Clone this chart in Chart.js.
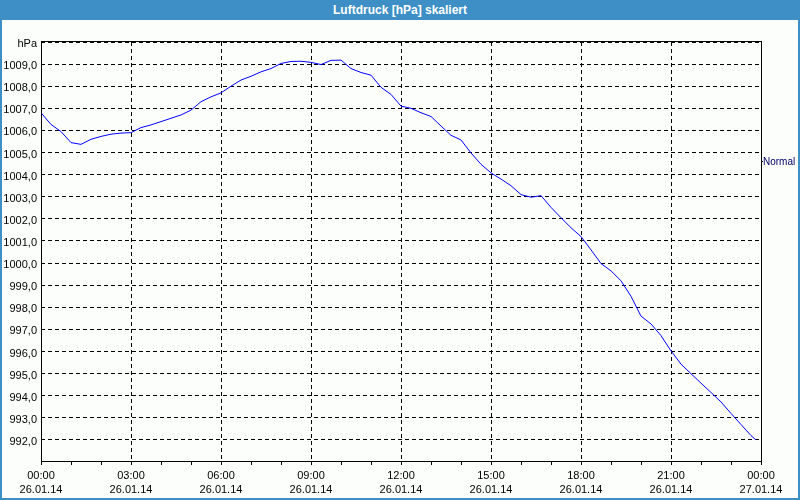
<!DOCTYPE html>
<html>
<head>
<meta charset="utf-8">
<script src="https://cdn.jsdelivr.net/npm/chart.js@4.4.1/dist/chart.umd.min.js"></script>
<style>
    html, body { margin: 0; padding: 0; background: #fff; }
    #frame {
        width: 800px; height: 500px; box-sizing: border-box;
        border: 2px solid #3d8fc6; border-top: none;
        background: #fcfefc;
    }
    #title {
        height: 20px; margin: 0 -2px; background: #3d8fc6;
        color: #fff; font: bold 12px "Liberation Sans", Arial, sans-serif;
        text-align: center; line-height: 20px;
    }
    canvas { display: block; }
</style>
</head>
<body>
<div id="frame">
    <div id="title">Luftdruck [hPa] skaliert</div>
    <canvas id="chart" width="796" height="478"></canvas>
</div>
<script>
// sample times in minutes after 26.01.14 00:00
const minutes = [
    0, 20, 40, 60, 80, 100, 120, 140, 160, 180, 200, 220,
    240, 260, 280, 300, 320, 340, 360, 380, 400, 420, 440, 460,
    480, 500, 520, 540, 560, 580, 600, 620, 640, 660, 680, 700,
    720, 740, 760, 780, 800, 820, 840, 860, 880, 900, 920, 940,
    960, 980, 1000, 1020, 1040, 1060, 1080, 1100, 1120, 1140, 1160, 1180,
    1200, 1220, 1240, 1260, 1280, 1300, 1320, 1340, 1360, 1380, 1400, 1420,
    1430
];
// air pressure in hPa
const pressure = [
    1006.8, 1006.27, 1005.95, 1005.45, 1005.37, 1005.6, 1005.73, 1005.83, 1005.88, 1005.9, 1006.13, 1006.25,
    1006.4, 1006.55, 1006.7, 1006.92, 1007.3, 1007.52, 1007.7, 1008.0, 1008.28, 1008.45, 1008.65, 1008.8,
    1009.03, 1009.12, 1009.13, 1009.08, 1008.98, 1009.17, 1009.18, 1008.8, 1008.62, 1008.5, 1007.95, 1007.63,
    1007.1, 1007.0, 1006.8, 1006.63, 1006.2, 1005.78, 1005.57, 1004.98, 1004.47, 1004.08, 1003.8, 1003.5,
    1003.1, 1002.98, 1003.05, 1002.52, 1002.05, 1001.6, 1001.2, 1000.6, 999.98, 999.65, 999.2, 998.5,
    997.6, 997.25, 996.72, 996.03, 995.43, 995.0, 994.57, 994.15, 993.72, 993.2, 992.7, 992.2,
    992.0
];
const timeLabels = ['00:00', '03:00', '06:00', '09:00', '12:00', '15:00', '18:00', '21:00', '00:00'];
const dateLabels = ['26.01.14', '26.01.14', '26.01.14', '26.01.14', '26.01.14', '26.01.14', '26.01.14', '26.01.14', '27.01.14'];
const yTicks = [992, 993, 994, 995, 996, 997, 998, 999, 1000, 1001, 1002, 1003, 1004, 1005, 1006, 1007, 1008, 1009, 1010];
const normalLevel = 1004.6;

const Y_MIN = 991.05, Y_MAX = 1010;
const FONT = { family: '"Liberation Sans", Arial, sans-serif', size: 11 };

// solid frame round the plot area
const framePlugin = {
    id: 'frame',
    afterDraw(chart) {
        const a = chart.chartArea;
        const ctx = chart.ctx;
        ctx.save();
        ctx.strokeStyle = '#000';
        ctx.lineWidth = 1;
        ctx.strokeRect(Math.round(a.left) + 0.5, Math.round(a.top) - 0.5,
            Math.round(a.right - a.left), Math.round(a.bottom - a.top) + 1);
        ctx.restore();
    }
};

new Chart(document.getElementById('chart'), {
    type: 'line',
    data: {
        datasets: [{
            label: 'Normal',
            data: minutes.map((m, i) => ({ x: m, y: pressure[i] })),
            borderColor: '#0000ff',
            borderWidth: 1,
            pointRadius: 0,
            tension: 0,
            yAxisID: 'y'
        }]
    },
    options: {
        responsive: false,
        animation: false,
        layout: { padding: { top: 22 } },
        plugins: { legend: { display: false }, tooltip: { enabled: false } },
        scales: {
            x: {
                type: 'linear',
                min: 0,
                max: 1440,
                afterBuildTicks: scale => {
                    const t = [];
                    for (let m = 0; m <= 1440; m += 60) t.push({ value: m });
                    scale.ticks = t;
                },
                afterFit: scale => { scale.height = 37; },
                grid: {
                    color: ctx => (ctx.tick && ctx.tick.value % 180 === 0) ? '#000' : 'rgba(0,0,0,0)',
                    tickColor: '#000',
                    tickLength: 4,
                    tickBorderDash: [],
                    lineWidth: 1
                },
                border: { display: false, dash: [4, 3] },
                ticks: {
                    autoSkip: false,
                    maxRotation: 0,
                    padding: 3,
                    color: '#000',
                    font: { ...FONT, lineHeight: 1.36 },
                    callback: v => {
                        if (v % 180 !== 0) return '';
                        const i = v / 180;
                        return [timeLabels[i], dateLabels[i]];
                    }
                }
            },
            y: {
                position: 'left',
                min: Y_MIN,
                max: Y_MAX,
                afterBuildTicks: scale => { scale.ticks = yTicks.map(v => ({ value: v })); },
                afterFit: scale => { scale.width = 39; },
                grid: { color: '#000', drawTicks: false, lineWidth: 1 },
                border: { display: false, dash: [4, 3] },
                ticks: {
                    padding: 4,
                    labelOffset: 2,
                    color: '#000',
                    font: FONT,
                    callback: v => v === 1010 ? 'hPa' : v.toFixed(1).replace('.', ',')
                }
            },
            y2: {
                position: 'right',
                min: Y_MIN,
                max: Y_MAX,
                afterBuildTicks: scale => { scale.ticks = [{ value: normalLevel }]; },
                afterFit: scale => { scale.width = 37; },
                grid: { drawOnChartArea: false, tickColor: '#000', tickLength: 2 },
                border: { display: false },
                ticks: {
                    padding: 0,
                    labelOffset: 1,
                    color: '#000066',
                    font: { ...FONT, size: 10 },
                    callback: () => 'Normal'
                }
            }
        }
    },
    plugins: [framePlugin]
});
</script>
</body>
</html>
